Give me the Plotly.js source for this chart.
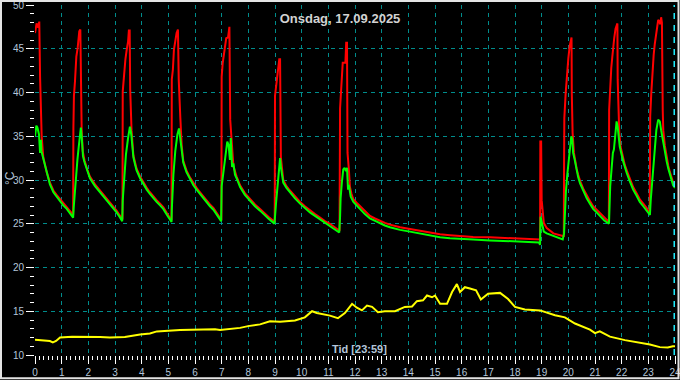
<!DOCTYPE html>
<html>
<head>
<meta charset="utf-8">
<script src="https://cdn.plot.ly/plotly-3.0.1.min.js"></script>
<style>html,body{margin:0;padding:0;background:#000;}#chart{width:680px;height:380px;}</style>
</head>
<body>
<div id="chart"></div>
<script>
// ---- Data (hours of day, °C) ----
const redTime = [
 0.00,0.03,0.06,0.12,0.16,0.19,0.22,0.25,0.31,0.36,0.44,0.56,0.69,0.81,0.94,1.06,1.19,1.30,1.41,1.43,
 1.44,1.46,1.50,1.55,1.60,1.64,1.66,1.70,1.72,1.75,1.79,1.86,1.96,2.06,2.25,2.44,2.62,2.81,2.94,3.06,3.17,3.26,3.28,
 3.29,3.34,3.39,3.44,3.49,3.52,3.55,3.57,3.62,3.69,3.75,3.81,3.94,4.06,4.19,4.31,4.44,4.56,4.69,4.81,4.95,5.10,5.12,
 5.13,5.17,5.21,5.26,5.31,5.36,5.39,5.45,5.50,5.56,5.68,5.81,5.94,6.06,6.19,6.31,6.44,6.56,6.69,6.81,6.90,6.97,6.99,
 7.00,7.04,7.09,7.14,7.17,7.24,7.29,7.32,7.37,7.41,7.44,7.56,7.69,7.87,8.06,8.25,8.44,8.60,8.75,8.87,8.97,8.99,
 9.00,9.06,9.11,9.16,9.19,9.20,9.22,9.31,9.43,9.56,9.75,9.94,10.12,10.31,10.50,10.69,10.87,11.06,11.23,11.40,11.42,
 11.44,11.49,11.54,11.64,11.67,11.70,11.71,11.72,11.77,11.81,11.87,11.94,12.06,12.19,12.37,12.56,12.75,12.94,13.12,13.31,13.50,13.69,14.06,14.44,14.81,15.19,15.56,15.94,16.43,17.06,17.69,18.31,18.94,
 18.95,18.98,19.00,19.04,19.08,19.19,19.44,19.79,19.83,
 19.84,19.85,19.90,19.95,20.00,20.05,20.10,20.12,20.13,20.16,20.21,20.26,20.31,20.37,20.44,20.56,20.69,20.81,20.93,21.06,21.18,21.34,21.50,21.52,
 21.53,21.57,21.61,21.65,21.68,21.72,21.77,21.81,21.84,21.85,21.89,21.91,21.96,22.06,22.12,22.19,22.31,22.43,22.56,22.68,22.81,22.94,23.05,
 23.07,23.11,23.15,23.20,23.24,23.29,23.32,23.37,23.41,23.45,23.48,23.51,23.54,23.56,23.62,23.69,23.75,23.81,23.87,23.93,24.00
];
const redTemp = [
 46.8,47.3,47.9,47.4,48.1,41.8,38.0,35.0,32.6,31.8,30.9,29.7,28.8,28.3,27.8,27.3,26.9,26.5,26.1,26.0,
 36.0,39.6,41.3,44.1,45.1,46.0,47.0,47.2,39.0,35.7,33.3,32.2,31.2,30.4,29.5,28.8,28.1,27.5,27.0,26.5,26.0,25.5,25.5,
 40.1,42.4,43.8,44.9,45.8,47.1,47.1,40.3,35.7,32.8,32.0,31.3,30.4,29.7,29.1,28.6,28.1,27.7,27.3,26.9,26.2,25.5,25.4,
 41.5,42.6,44.9,46.0,46.8,47.2,41.5,37.1,34.0,32.2,31.1,30.3,29.6,29.1,28.6,28.1,27.6,27.2,26.8,26.3,25.9,25.5,25.4,
 41.8,43.4,44.5,45.7,46.2,46.3,47.5,36.9,35.0,32.5,31.6,30.4,29.4,28.5,27.8,27.2,26.7,26.2,25.8,25.5,25.3,25.2,
 39.6,41.5,43.0,43.8,43.8,35.7,32.6,30.0,29.3,28.8,28.1,27.5,27.0,26.5,26.1,25.7,25.3,25.0,24.6,24.3,24.2,
 38.2,40.7,43.4,43.4,45.7,45.7,38.2,33.1,31.2,29.2,28.4,27.8,27.4,27.0,26.4,25.9,25.6,25.3,25.1,24.9,24.75,24.6,24.4,24.2,24.0,23.8,23.7,23.6,23.5,23.45,23.35,23.3,23.2,
 34.4,34.4,27.7,26.4,25.1,24.5,23.9,23.6,23.6,
 31.9,37.1,39.9,42.6,43.9,45.3,46.3,46.3,39.9,35.4,33.1,32.1,31.3,30.6,29.9,29.0,28.2,27.6,27.0,26.6,26.2,25.7,25.3,25.2,
 38.0,41.1,42.8,44.1,45.3,46.2,47.3,47.8,47.9,41.5,37.3,35.4,33.8,32.4,31.7,31.1,30.1,29.2,28.5,27.8,27.3,26.8,26.1,
 37.3,39.9,42.6,44.3,45.5,46.6,47.5,48.3,48.1,47.8,48.6,47.95,38.0,35.7,33.9,32.4,31.6,30.9,30.3,29.7,29.45
];

const greenTime = [
 0.00,0.05,0.09,0.15,0.19,0.22,0.24,0.29,0.36,0.44,0.56,0.69,0.81,0.94,1.06,1.19,1.30,1.41,1.43,
 1.45,1.49,1.54,1.59,1.64,1.69,1.72,1.76,1.80,1.86,1.96,2.06,2.25,2.44,2.62,2.81,2.94,3.06,3.17,3.27,
 3.29,3.34,3.41,3.49,3.56,3.61,3.66,3.69,3.75,3.81,3.94,4.06,4.19,4.31,4.44,4.56,4.69,4.81,4.95,5.10,5.12,
 5.13,5.19,5.26,5.34,5.40,5.45,5.50,5.56,5.68,5.81,5.94,6.06,6.19,6.31,6.44,6.56,6.69,6.81,6.90,6.98,
 7.00,7.06,7.14,7.21,7.26,7.31,7.34,7.39,7.44,7.50,7.56,7.69,7.87,8.06,8.25,8.44,8.60,8.75,8.87,8.98,
 9.04,9.09,9.14,9.19,9.22,9.27,9.31,9.43,9.56,9.75,9.94,10.12,10.31,10.50,10.69,10.87,11.06,11.23,11.41,
 11.44,11.46,11.51,11.56,11.61,11.66,11.70,11.74,11.77,11.84,11.94,12.06,12.19,12.37,12.56,12.75,12.94,13.12,13.31,13.50,13.69,14.06,14.44,14.81,15.19,15.56,15.94,16.43,17.06,17.69,18.31,18.90,18.94,
 18.96,19.01,19.08,19.19,19.44,19.79,19.84,
 19.87,19.91,19.96,20.01,20.06,20.11,20.15,20.18,20.24,20.31,20.37,20.44,20.56,20.69,20.81,20.93,21.06,21.18,21.34,21.52,
 21.53,21.57,21.62,21.67,21.71,21.76,21.81,21.85,21.90,21.93,22.06,22.12,22.19,22.31,22.43,22.56,22.68,22.81,22.94,23.06,
 23.09,23.14,23.18,23.25,23.30,23.37,23.43,23.48,23.54,23.59,23.69,23.75,23.81,23.87,23.93,24.00
];
const greenTemp = [
 35.0,36.2,36.0,35.2,33.1,34.6,33.3,32.7,31.6,30.7,29.5,28.6,28.1,27.6,27.1,26.7,26.3,25.9,25.7,
 26.8,28.7,30.6,32.3,33.8,35.7,36.0,34.6,32.7,32.0,31.0,30.2,29.3,28.6,27.9,27.3,26.8,26.3,25.8,25.3,
 27.7,30.2,32.9,34.8,36.1,35.2,33.1,32.6,31.8,31.1,30.2,29.5,28.9,28.4,27.9,27.5,27.1,26.7,26.0,25.3,25.2,
 26.6,30.6,33.3,35.2,35.9,34.6,32.9,32.0,30.9,30.1,29.4,28.9,28.4,27.9,27.4,27.0,26.6,26.1,25.7,25.3,
 29.3,30.8,33.1,34.4,34.0,32.3,34.8,31.5,31.9,30.6,30.2,29.2,28.3,27.6,27.0,26.5,26.0,25.6,25.3,25.0,
 27.4,29.3,30.8,32.5,31.5,30.2,29.7,29.1,28.6,27.9,27.3,26.8,26.3,25.9,25.5,25.1,24.7,24.4,24.0,
 25.8,27.9,29.8,31.2,31.4,31.0,31.4,28.9,29.45,28.1,27.5,27.1,26.7,26.1,25.6,25.3,25.0,24.8,24.6,24.45,24.3,24.1,23.9,23.7,23.45,23.35,23.25,23.2,23.1,23.05,22.95,22.85,22.6,
 25.8,25.1,24.1,23.9,23.6,23.2,23.9,
 26.8,28.7,30.6,32.3,33.6,35.0,34.6,33.1,32.3,31.0,30.3,29.6,28.7,27.9,27.3,26.7,26.3,25.9,25.4,25.0,
 25.45,29.3,31.5,33.1,33.5,35.4,36.7,36.1,35.0,33.8,32.1,31.4,30.8,29.8,28.9,28.2,27.5,27.0,26.5,26.0,
 27.7,29.6,31.5,33.1,35.7,36.9,36.7,35.7,34.6,33.5,32.1,31.3,30.6,30.0,29.4,29.1
];

const yellowTime = [
 0.00,0.38,0.56,0.67,0.79,0.94,1.39,2.44,2.81,3.37,3.75,3.94,4.31,4.57,5.44,6.00,6.75,6.94,7.69,7.99,
 8.44,8.81,9.19,9.75,9.94,10.12,10.39,10.57,11.06,11.36,11.62,11.89,12.07,12.26,12.45,12.64,12.86,13.12,13.50,
 13.87,14.14,14.32,14.55,14.70,14.89,15.00,15.19,15.45,15.64,15.82,15.94,16.12,16.31,16.54,16.72,16.99,17.44,
 17.74,18.00,18.37,18.94,19.50,19.87,20.25,20.81,21.00,21.18,21.56,22.12,22.68,23.06,23.43,23.73,23.92,24.00
];
const yellowTemp = [
 11.75,11.7,11.6,11.45,11.6,12.0,12.1,12.05,12.0,12.05,12.25,12.35,12.45,12.7,12.85,12.9,12.95,12.85,13.1,13.3,
 13.5,13.85,13.8,13.95,14.15,14.3,15.0,14.8,14.5,14.2,14.8,15.85,15.4,15.1,15.65,15.5,14.9,15.0,15.0,
 15.5,15.55,16.15,16.25,16.8,16.6,16.8,15.85,15.85,17.2,18.1,17.2,17.75,17.6,17.4,16.35,17.0,17.1,
 16.4,15.5,15.2,15.1,14.55,14.3,13.6,12.9,12.5,12.7,12.1,11.7,11.4,11.2,10.9,10.85,11.0,11.0
];

const hourTicks = [0,1,2,3,4,5,6,7,8,9,10,11,12,13,14,15,16,17,18,19,20,21,22,23,24];
const hourGrid = [1,2,3,4,5,6,7,8,9,10,11,12,13,14,15,16,17,18,19,20,21,22,23];
const tempTicks = [10,15,20,25,30,35,40,45,50];
const tempGrid = [15,20,25,30,35,40,45];
const nowHour = 23.98;
const chartTitle = 'Onsdag, 17.09.2025';
const xLabel = 'Tid [23:59]';
const yLabel = '°C';

const FONT = 'Liberation Sans, Arial, sans-serif';
const labelColor = '#b4c6da';
const gridColor = '#008c8c';

const traces = [
  {x: yellowTime, y: yellowTemp, type: 'scatter', mode: 'lines', line: {color: '#ffff00', width: 2}, hoverinfo: 'skip'},
  {x: redTime, y: redTemp, type: 'scatter', mode: 'lines', line: {color: '#ff0000', width: 2}, hoverinfo: 'skip'},
  {x: greenTime, y: greenTemp, type: 'scatter', mode: 'lines', line: {color: '#00ff00', width: 2}, hoverinfo: 'skip'},
  {x: [], y: [], xaxis: 'x2', yaxis: 'y2', type: 'scatter', mode: 'lines', hoverinfo: 'skip'}
];

const layout = {
  width: 680, height: 380,
  margin: {l: 35, r: 5, t: 5, b: 25},
  paper_bgcolor: '#000', plot_bgcolor: '#000',
  showlegend: false,
  font: {family: FONT, color: labelColor},
  title: {text: chartTitle, font: {family: FONT, size: 13, color: '#d2d2d2', weight: 'bold'},
          xref: 'container', x: 0.5, xanchor: 'center', yref: 'container', y: 1 - 18/380, yanchor: 'middle'},
  xaxis: {range: [0, 24], tickvals: hourTicks, ticktext: hourTicks.map(String), ticks: 'outside', ticklen: 8,
          tickcolor: '#ffffff', tickwidth: 1, showgrid: false, zeroline: false, showline: false,
          ticklabeloverflow: 'allow',
          tickfont: {family: FONT, size: 10, color: labelColor},
          minor: {dtick: 1/6, tick0: 0, ticks: 'outside', ticklen: 4, tickcolor: '#ffffff', tickwidth: 1, showgrid: false}},
  yaxis: {range: [10, 50], tickvals: tempTicks, ticktext: tempTicks.map(String), ticks: 'outside', ticklen: 8,
          tickcolor: '#ffffff', tickwidth: 1, showgrid: false, zeroline: false, showline: false,
          ticklabeloverflow: 'allow',
          tickfont: {family: FONT, size: 10, color: labelColor},
          minor: {dtick: 1, tick0: 0, ticks: 'outside', ticklen: 4, tickcolor: '#ffffff', tickwidth: 1, showgrid: false}},
  xaxis2: {overlaying: 'x', side: 'bottom', range: [0, 24], tickvals: hourGrid, showticklabels: false, ticks: '',
           showgrid: true, gridcolor: gridColor, gridwidth: 1, griddash: '4px,4px', zeroline: false, showline: false},
  yaxis2: {overlaying: 'y', side: 'left', range: [10, 50], tickvals: tempGrid, showticklabels: false, ticks: '',
           showgrid: true, gridcolor: gridColor, gridwidth: 1, griddash: '4px,4px', zeroline: false, showline: false},
  shapes: [
    {type: 'line', xref: 'x', yref: 'paper', x0: nowHour, x1: nowHour, y0: 0, y1: 1,
     line: {color: '#20e8f8', width: 2, dash: '6px,6px'}},
    {type: 'rect', xref: 'paper', yref: 'paper', x0: -34/640, x1: 643.5/640, y0: -23.3/350, y1: 354/350,
     line: {color: '#e4e4e4', width: 2}, layer: 'above'}
  ],
  annotations: [
    {text: xLabel, xref: 'paper', yref: 'paper', x: (359-35)/640, y: 6/350, xanchor: 'center', yanchor: 'middle',
     showarrow: false, font: {family: FONT, size: 11, color: labelColor, weight: 'bold'}},
    {text: yLabel, xref: 'paper', yref: 'paper', x: (10-35)/640, y: (355-178)/350, xanchor: 'center', yanchor: 'middle',
     textangle: -90, showarrow: false, font: {family: FONT, size: 12, color: labelColor}}
  ]
};

Plotly.newPlot('chart', traces, layout, {staticPlot: true, displayModeBar: false});
</script>
</body>
</html>
